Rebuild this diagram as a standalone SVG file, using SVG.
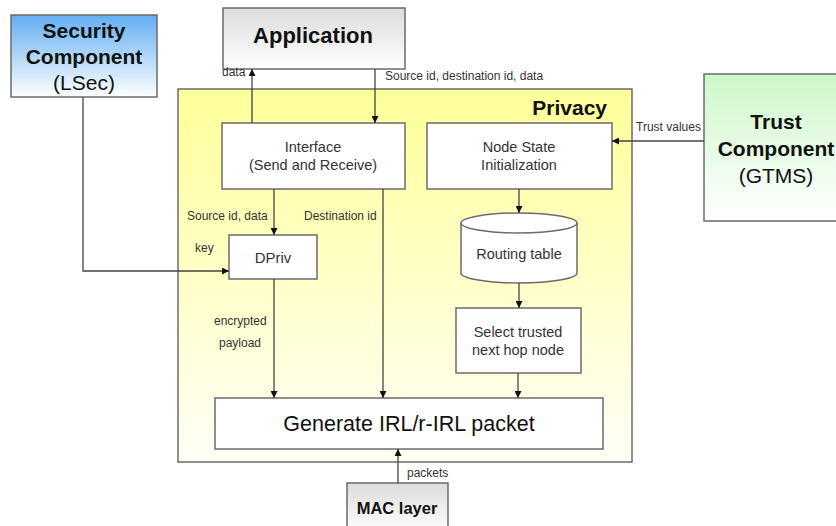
<svg xmlns="http://www.w3.org/2000/svg" width="836" height="526" viewBox="0 0 836 526">
  <defs>
    <linearGradient id="gBlue" x1="0" y1="0" x2="0" y2="1">
      <stop offset="0" stop-color="#62aef2"/>
      <stop offset="1" stop-color="#ffffff"/>
    </linearGradient>
    <linearGradient id="gGray" x1="0" y1="0" x2="0" y2="1">
      <stop offset="0" stop-color="#dcdcdc"/>
      <stop offset="1" stop-color="#ffffff"/>
    </linearGradient>
    <linearGradient id="gGreen" x1="0" y1="0" x2="0" y2="1">
      <stop offset="0" stop-color="#cdf7c9"/>
      <stop offset="1" stop-color="#ffffff"/>
    </linearGradient>
    <linearGradient id="gYellow" x1="0" y1="0" x2="0" y2="1">
      <stop offset="0" stop-color="#ffff99"/>
      <stop offset="1" stop-color="#fffff6"/>
    </linearGradient>
    <marker id="arrow" viewBox="0 0 10 10" refX="10" refY="5" markerWidth="7" markerHeight="7" markerUnits="userSpaceOnUse" orient="auto">
      <path d="M0,0 L10,5 L0,10 z" fill="#111"/>
    </marker>
  </defs>
  <style>
    .box { stroke: #6b6b6b; stroke-width: 1.5; }
    .inner { fill: #ffffff; stroke: #6b6b6b; stroke-width: 1.5; }
    .big { font-family: "Liberation Sans", Arial, sans-serif; font-size: 21px; fill: #111; text-anchor: middle; }
    .bold { font-weight: bold; }
    .mid { font-family: "Liberation Sans", Arial, sans-serif; font-size: 14.5px; fill: #333; text-anchor: middle; }
    .lbl { font-family: "Liberation Sans", Arial, sans-serif; font-size: 12px; fill: #333; }
    .wire { fill: none; stroke: #444; stroke-width: 1.3; }
  </style>

  <rect width="836" height="526" fill="#ffffff"/>

  <g id="security">
    <rect class="box" x="11" y="15" width="146" height="82" fill="url(#gBlue)"/>
    <text class="big bold" x="84" y="38">Security</text>
    <text class="big bold" x="84" y="64">Component</text>
    <text class="big" x="84" y="90">(LSec)</text>
  </g>

  <g id="application">
    <rect class="box" x="223" y="8" width="182" height="61" fill="url(#gGray)"/>
    <text class="big bold" x="313" y="43" style="font-size:22px">Application</text>
  </g>

  <g id="trust">
    <rect class="box" x="704" y="74" width="140" height="147" fill="url(#gGreen)"/>
    <text class="big bold" x="776" y="129">Trust</text>
    <text class="big bold" x="776" y="156">Component</text>
    <text class="big" x="776" y="183">(GTMS)</text>
  </g>

  <g id="privacy">
    <rect class="box" x="178" y="89" width="454" height="373" fill="url(#gYellow)"/>
    <text class="big bold" x="607" y="115" style="text-anchor:end">Privacy</text>
  </g>

  <g id="interface">
    <rect class="inner" x="222" y="123" width="183" height="66"/>
    <text class="mid" x="313" y="152">Interface</text>
    <text class="mid" x="313" y="170">(Send and Receive)</text>
  </g>

  <g id="node-state">
    <rect class="inner" x="427" y="123" width="185" height="66"/>
    <text class="mid" x="519" y="152">Node State</text>
    <text class="mid" x="519" y="170">Initialization</text>
  </g>

  <g id="dpriv">
    <rect class="inner" x="229" y="235" width="88" height="44"/>
    <text class="mid" x="273" y="263" style="font-size:15px">DPriv</text>
  </g>

  <g id="routing-table">
    <path class="inner" d="M461,223 A58,10 0 0 1 577,223 V273 A58,10 0 0 1 461,273 Z"/>
    <path fill="none" stroke="#6b6b6b" stroke-width="1.5" d="M461,223 A58,10 0 0 0 577,223"/>
    <text class="mid" x="519" y="259">Routing table</text>
  </g>

  <g id="select-hop">
    <rect class="inner" x="456" y="308" width="125" height="65"/>
    <text class="mid" x="518" y="337">Select trusted</text>
    <text class="mid" x="518" y="355">next hop node</text>
  </g>

  <g id="generate">
    <rect class="inner" x="215" y="398" width="388" height="51"/>
    <text class="big" x="409" y="431" style="font-size:21.5px">Generate IRL/r-IRL packet</text>
  </g>

  <g id="mac">
    <rect class="box" x="347" y="483" width="101" height="50" fill="url(#gGray)"/>
    <text class="big bold" x="397" y="514" style="font-size:16.5px">MAC layer</text>
  </g>

  <g id="connectors">
    <path class="wire" d="M252,123 V69" marker-end="url(#arrow)"/>
    <path class="wire" d="M375,69 V123" marker-end="url(#arrow)"/>
    <path class="wire" d="M704,141 H612" marker-end="url(#arrow)"/>
    <path class="wire" d="M83,97 V271 H229" marker-end="url(#arrow)"/>
    <path class="wire" d="M274,189 V235" marker-end="url(#arrow)"/>
    <path class="wire" d="M383,189 V398" marker-end="url(#arrow)"/>
    <path class="wire" d="M274,279 V398" marker-end="url(#arrow)"/>
    <path class="wire" d="M519,189 V213" marker-end="url(#arrow)"/>
    <path class="wire" d="M519,283 V308" marker-end="url(#arrow)"/>
    <path class="wire" d="M518,373 V398" marker-end="url(#arrow)"/>
    <path class="wire" d="M398,483 V449" marker-end="url(#arrow)"/>

    <text class="lbl" x="222" y="76">data</text>
    <text class="lbl" x="385" y="80">Source id, destination id, data</text>
    <text class="lbl" x="636" y="131">Trust values</text>
    <text class="lbl" x="187" y="220">Source id, data</text>
    <text class="lbl" x="304" y="220">Destination id</text>
    <text class="lbl" x="195" y="252">key</text>
    <text class="lbl" x="214" y="325">encrypted</text>
    <text class="lbl" x="219" y="347">payload</text>
    <text class="lbl" x="407" y="477">packets</text>
  </g>
</svg>
